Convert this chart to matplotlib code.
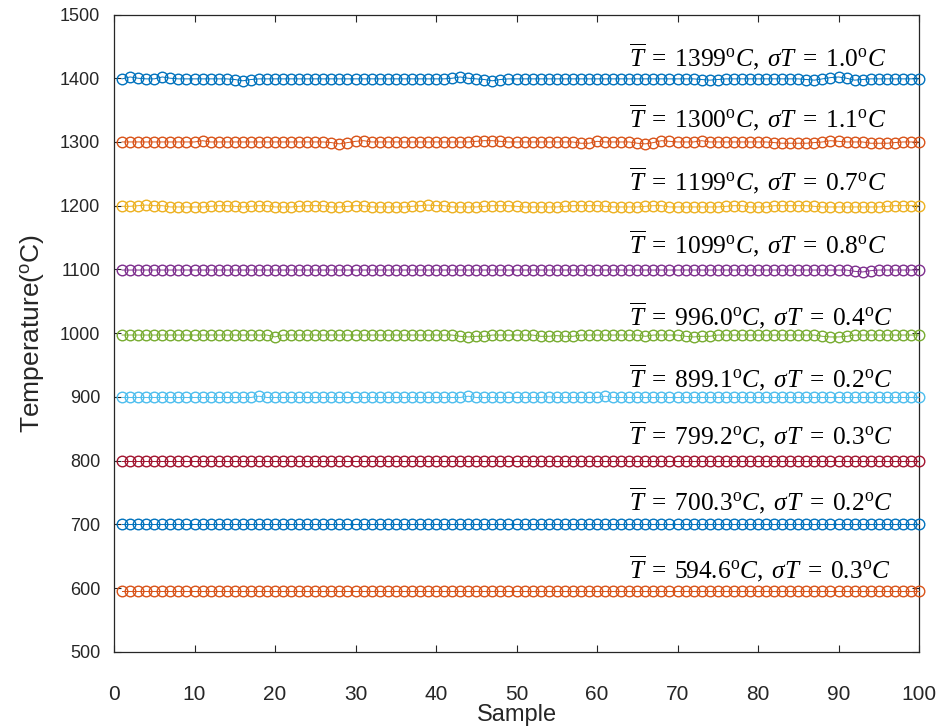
import matplotlib
matplotlib.use("Agg")
import matplotlib.pyplot as plt
import numpy as np

plt.rcParams['mathtext.fontset'] = 'custom'
plt.rcParams['mathtext.rm'] = 'Liberation Serif'
plt.rcParams['mathtext.it'] = 'Liberation Serif:italic'
plt.rcParams['mathtext.bf'] = 'Liberation Serif:bold'
plt.rcParams['mathtext.sf'] = 'Liberation Sans'

samples = list(range(1, 101))

t1400 = [1399, 1402, 1400, 1399, 1399, 1402, 1400, 1399, 1399, 1399,
         1399, 1399, 1399, 1399, 1398, 1396, 1398, 1399, 1399, 1399,
         1399, 1399, 1399, 1399, 1399, 1399, 1399, 1399, 1399, 1399,
         1399, 1399, 1399, 1399, 1399, 1399, 1399, 1399, 1399, 1399,
         1399, 1400, 1402, 1400, 1399, 1398, 1396, 1398, 1399, 1399,
         1399, 1399, 1399, 1399, 1399, 1399, 1399, 1399, 1399, 1399,
         1399, 1399, 1399, 1399, 1399, 1399, 1399, 1399, 1399, 1399,
         1399, 1399, 1398, 1397, 1398, 1399, 1399, 1399, 1399, 1399,
         1399, 1399, 1399, 1399, 1399, 1398, 1397, 1399, 1401, 1402,
         1400, 1397, 1398, 1399, 1399, 1399, 1399, 1399, 1399, 1399]

t1300 = [1300, 1300, 1300, 1300, 1300, 1300, 1300, 1300, 1300, 1300,
         1302, 1300, 1300, 1300, 1300, 1300, 1300, 1300, 1300, 1300,
         1300, 1300, 1300, 1300, 1300, 1300, 1299, 1297, 1299, 1301,
         1302, 1300, 1300, 1300, 1300, 1300, 1300, 1300, 1300, 1300,
         1300, 1300, 1300, 1300, 1301, 1302, 1302, 1301, 1300, 1300,
         1300, 1300, 1300, 1300, 1300, 1300, 1300, 1298, 1298, 1301,
         1300, 1300, 1300, 1300, 1298, 1297, 1299, 1302, 1301, 1300,
         1300, 1300, 1302, 1300, 1300, 1300, 1300, 1300, 1300, 1300,
         1300, 1299, 1298, 1298, 1298, 1298, 1299, 1300, 1302, 1301,
         1300, 1300, 1300, 1298, 1298, 1298, 1299, 1300, 1300, 1300]

t1200 = [1199, 1199, 1200, 1201, 1200, 1200, 1198, 1198, 1198, 1198,
         1198, 1199, 1200, 1200, 1199, 1198, 1199, 1200, 1200, 1198,
         1198, 1198, 1199, 1200, 1200, 1200, 1198, 1198, 1199, 1200,
         1200, 1198, 1198, 1198, 1198, 1198, 1199, 1200, 1201, 1200,
         1200, 1198, 1198, 1198, 1198, 1199, 1200, 1200, 1200, 1199,
         1198, 1198, 1198, 1198, 1198, 1199, 1200, 1200, 1200, 1200,
         1199, 1198, 1198, 1198, 1198, 1199, 1200, 1200, 1198, 1198,
         1198, 1198, 1198, 1198, 1198, 1199, 1200, 1200, 1198, 1198,
         1198, 1200, 1200, 1200, 1200, 1200, 1199, 1198, 1198, 1198,
         1198, 1198, 1198, 1198, 1198, 1199, 1200, 1200, 1200, 1200]

t1100 = [1099, 1099, 1099, 1099, 1099, 1099, 1099, 1099, 1099, 1099,
         1099, 1099, 1099, 1099, 1099, 1099, 1099, 1099, 1099, 1099,
         1099, 1099, 1099, 1099, 1099, 1099, 1099, 1099, 1099, 1099,
         1099, 1099, 1099, 1099, 1099, 1099, 1099, 1099, 1099, 1099,
         1099, 1099, 1099, 1099, 1099, 1099, 1099, 1099, 1099, 1099,
         1099, 1099, 1099, 1099, 1099, 1099, 1099, 1099, 1099, 1099,
         1099, 1099, 1099, 1099, 1099, 1099, 1099, 1099, 1099, 1099,
         1099, 1099, 1099, 1099, 1099, 1099, 1099, 1099, 1099, 1099,
         1099, 1099, 1099, 1099, 1099, 1099, 1099, 1099, 1099, 1099,
         1099, 1097, 1096, 1098, 1099, 1099, 1099, 1099, 1099, 1099]

t1000 = [997, 997, 997, 997, 997, 997, 997, 997, 997, 997,
         997, 997, 997, 997, 997, 997, 997, 997, 997, 994,
         997, 997, 997, 997, 997, 997, 997, 997, 997, 997,
         997, 997, 997, 997, 997, 997, 997, 997, 997, 997,
         997, 997, 995, 994, 995, 995, 997, 997, 997, 997,
         997, 997, 995, 995, 996, 995, 995, 997, 997, 997,
         997, 997, 997, 997, 997, 995, 997, 997, 997, 997,
         995, 994, 995, 995, 997, 997, 997, 997, 997, 997,
         997, 997, 997, 997, 997, 997, 997, 995, 994, 994,
         995, 997, 997, 997, 997, 997, 997, 997, 997, 997]

t900 = [899, 899, 899, 899, 899, 899, 899, 899, 899, 899,
        899, 899, 899, 899, 899, 899, 899, 901, 899, 899,
        899, 899, 899, 899, 899, 899, 899, 899, 899, 899,
        899, 899, 899, 899, 899, 899, 899, 899, 899, 899,
        899, 899, 899, 901, 899, 899, 899, 899, 899, 899,
        899, 899, 899, 900, 899, 899, 899, 899, 899, 899,
        901, 899, 899, 899, 899, 899, 899, 899, 899, 899,
        899, 899, 899, 899, 899, 899, 899, 899, 899, 899,
        899, 899, 899, 899, 899, 899, 899, 899, 899, 899,
        899, 899, 899, 899, 899, 899, 899, 899, 899, 899]

t800 = [799, 799, 799, 799, 799, 799, 799, 799, 799, 799,
        799, 799, 799, 799, 799, 799, 799, 799, 799, 799,
        799, 799, 799, 799, 799, 799, 799, 799, 799, 799,
        799, 799, 799, 799, 799, 799, 799, 799, 799, 799,
        799, 799, 799, 799, 799, 799, 799, 799, 799, 799,
        799, 799, 799, 799, 799, 799, 799, 799, 799, 799,
        799, 799, 799, 799, 799, 799, 799, 799, 799, 799,
        799, 799, 799, 799, 799, 799, 799, 799, 799, 799,
        799, 799, 799, 799, 799, 799, 799, 799, 799, 799,
        799, 799, 799, 799, 799, 799, 799, 799, 799, 799]

t700 = [700, 700, 700, 700, 700, 700, 700, 700, 700, 700,
        700, 700, 700, 700, 700, 700, 700, 700, 700, 700,
        700, 700, 700, 700, 700, 700, 700, 700, 700, 700,
        700, 700, 700, 700, 700, 700, 700, 700, 700, 700,
        700, 700, 700, 700, 700, 700, 700, 700, 700, 700,
        700, 700, 700, 700, 700, 700, 700, 700, 700, 700,
        700, 700, 700, 700, 700, 700, 700, 700, 700, 700,
        700, 700, 700, 700, 700, 700, 700, 700, 700, 700,
        700, 700, 700, 700, 700, 700, 700, 700, 700, 700,
        700, 700, 700, 700, 700, 700, 700, 700, 700, 700]

t600 = [595, 595, 595, 595, 595, 595, 595, 595, 595, 595,
        595, 595, 595, 595, 595, 595, 595, 595, 595, 595,
        595, 595, 595, 595, 595, 595, 595, 595, 595, 595,
        595, 595, 595, 595, 595, 595, 595, 595, 595, 595,
        595, 595, 595, 595, 595, 595, 595, 595, 595, 595,
        595, 595, 595, 595, 595, 595, 595, 595, 595, 595,
        595, 595, 595, 595, 595, 595, 595, 595, 595, 595,
        595, 595, 595, 595, 595, 595, 595, 595, 595, 595,
        595, 595, 595, 595, 595, 595, 595, 595, 595, 595,
        595, 595, 595, 595, 595, 595, 595, 595, 595, 595]

series = [t1400, t1300, t1200, t1100, t1000, t900, t800, t700, t600]

mean_labels = ['1399', '1300', '1199', '1099', '996.0', '899.1', '799.2', '700.3', '594.6']
sigma_labels = ['1.0', '1.1', '0.7', '0.8', '0.4', '0.2', '0.3', '0.2', '0.3']
label_y = [1419, 1323, 1224, 1125, 1012, 914, 825, 722, 615]

colors = ['#0072BD', '#D95319', '#EDB120', '#7E2F8E', '#77AC30',
          '#4DBEEE', '#A2142F', '#0072BD', '#D95319']

fig = plt.figure(figsize=(9.4, 7.26), dpi=100)
ax = fig.add_axes([0.1213, 0.1023, 0.8564, 0.8777])

for vals, c in zip(series, colors):
    ax.plot(samples, vals, '-o', color=c, lw=0.7, ms=7.6, mfc='none', mew=1.0,
            clip_on=False, zorder=3)

for m, s, y in zip(mean_labels, sigma_labels, label_y):
    txt = (r'$\overline{T}\;=\;' + m + r'^{\mathrm{o}}C,\;\sigma T\;=\;' + s
           + r'^{\mathrm{o}}C$')
    ax.text(64.0, y, txt, fontsize=18.3, ha='left', va='baseline', zorder=4)

ax.set_xlim(0, 100)
ax.set_ylim(500, 1500)
ax.set_xticks(np.arange(0, 101, 10))
ax.set_yticks(np.arange(500, 1501, 100))
ax.tick_params(direction='in', top=True, right=True, length=5, width=0.8,
               colors='#262626')
ax.tick_params(axis='x', pad=24)
ax.tick_params(axis='y', pad=10)
for lab in ax.get_xticklabels():
    lab.set_fontfamily('Liberation Sans')
    lab.set_fontsize(15)
for lab in ax.get_yticklabels():
    lab.set_fontfamily('Liberation Sans')
    lab.set_fontsize(13)
for sp in ax.spines.values():
    sp.set_linewidth(0.9)
    sp.set_color('#262626')

ax.set_xlabel('Sample', fontfamily='Liberation Sans', fontsize=17, color='#262626',
              labelpad=0)
ax.set_ylabel(r'Temperature($^{\mathsf{o}}$C)', fontfamily='Liberation Sans',
              fontsize=19, color='#262626', labelpad=10)

fig.savefig('out.png', dpi=100)
